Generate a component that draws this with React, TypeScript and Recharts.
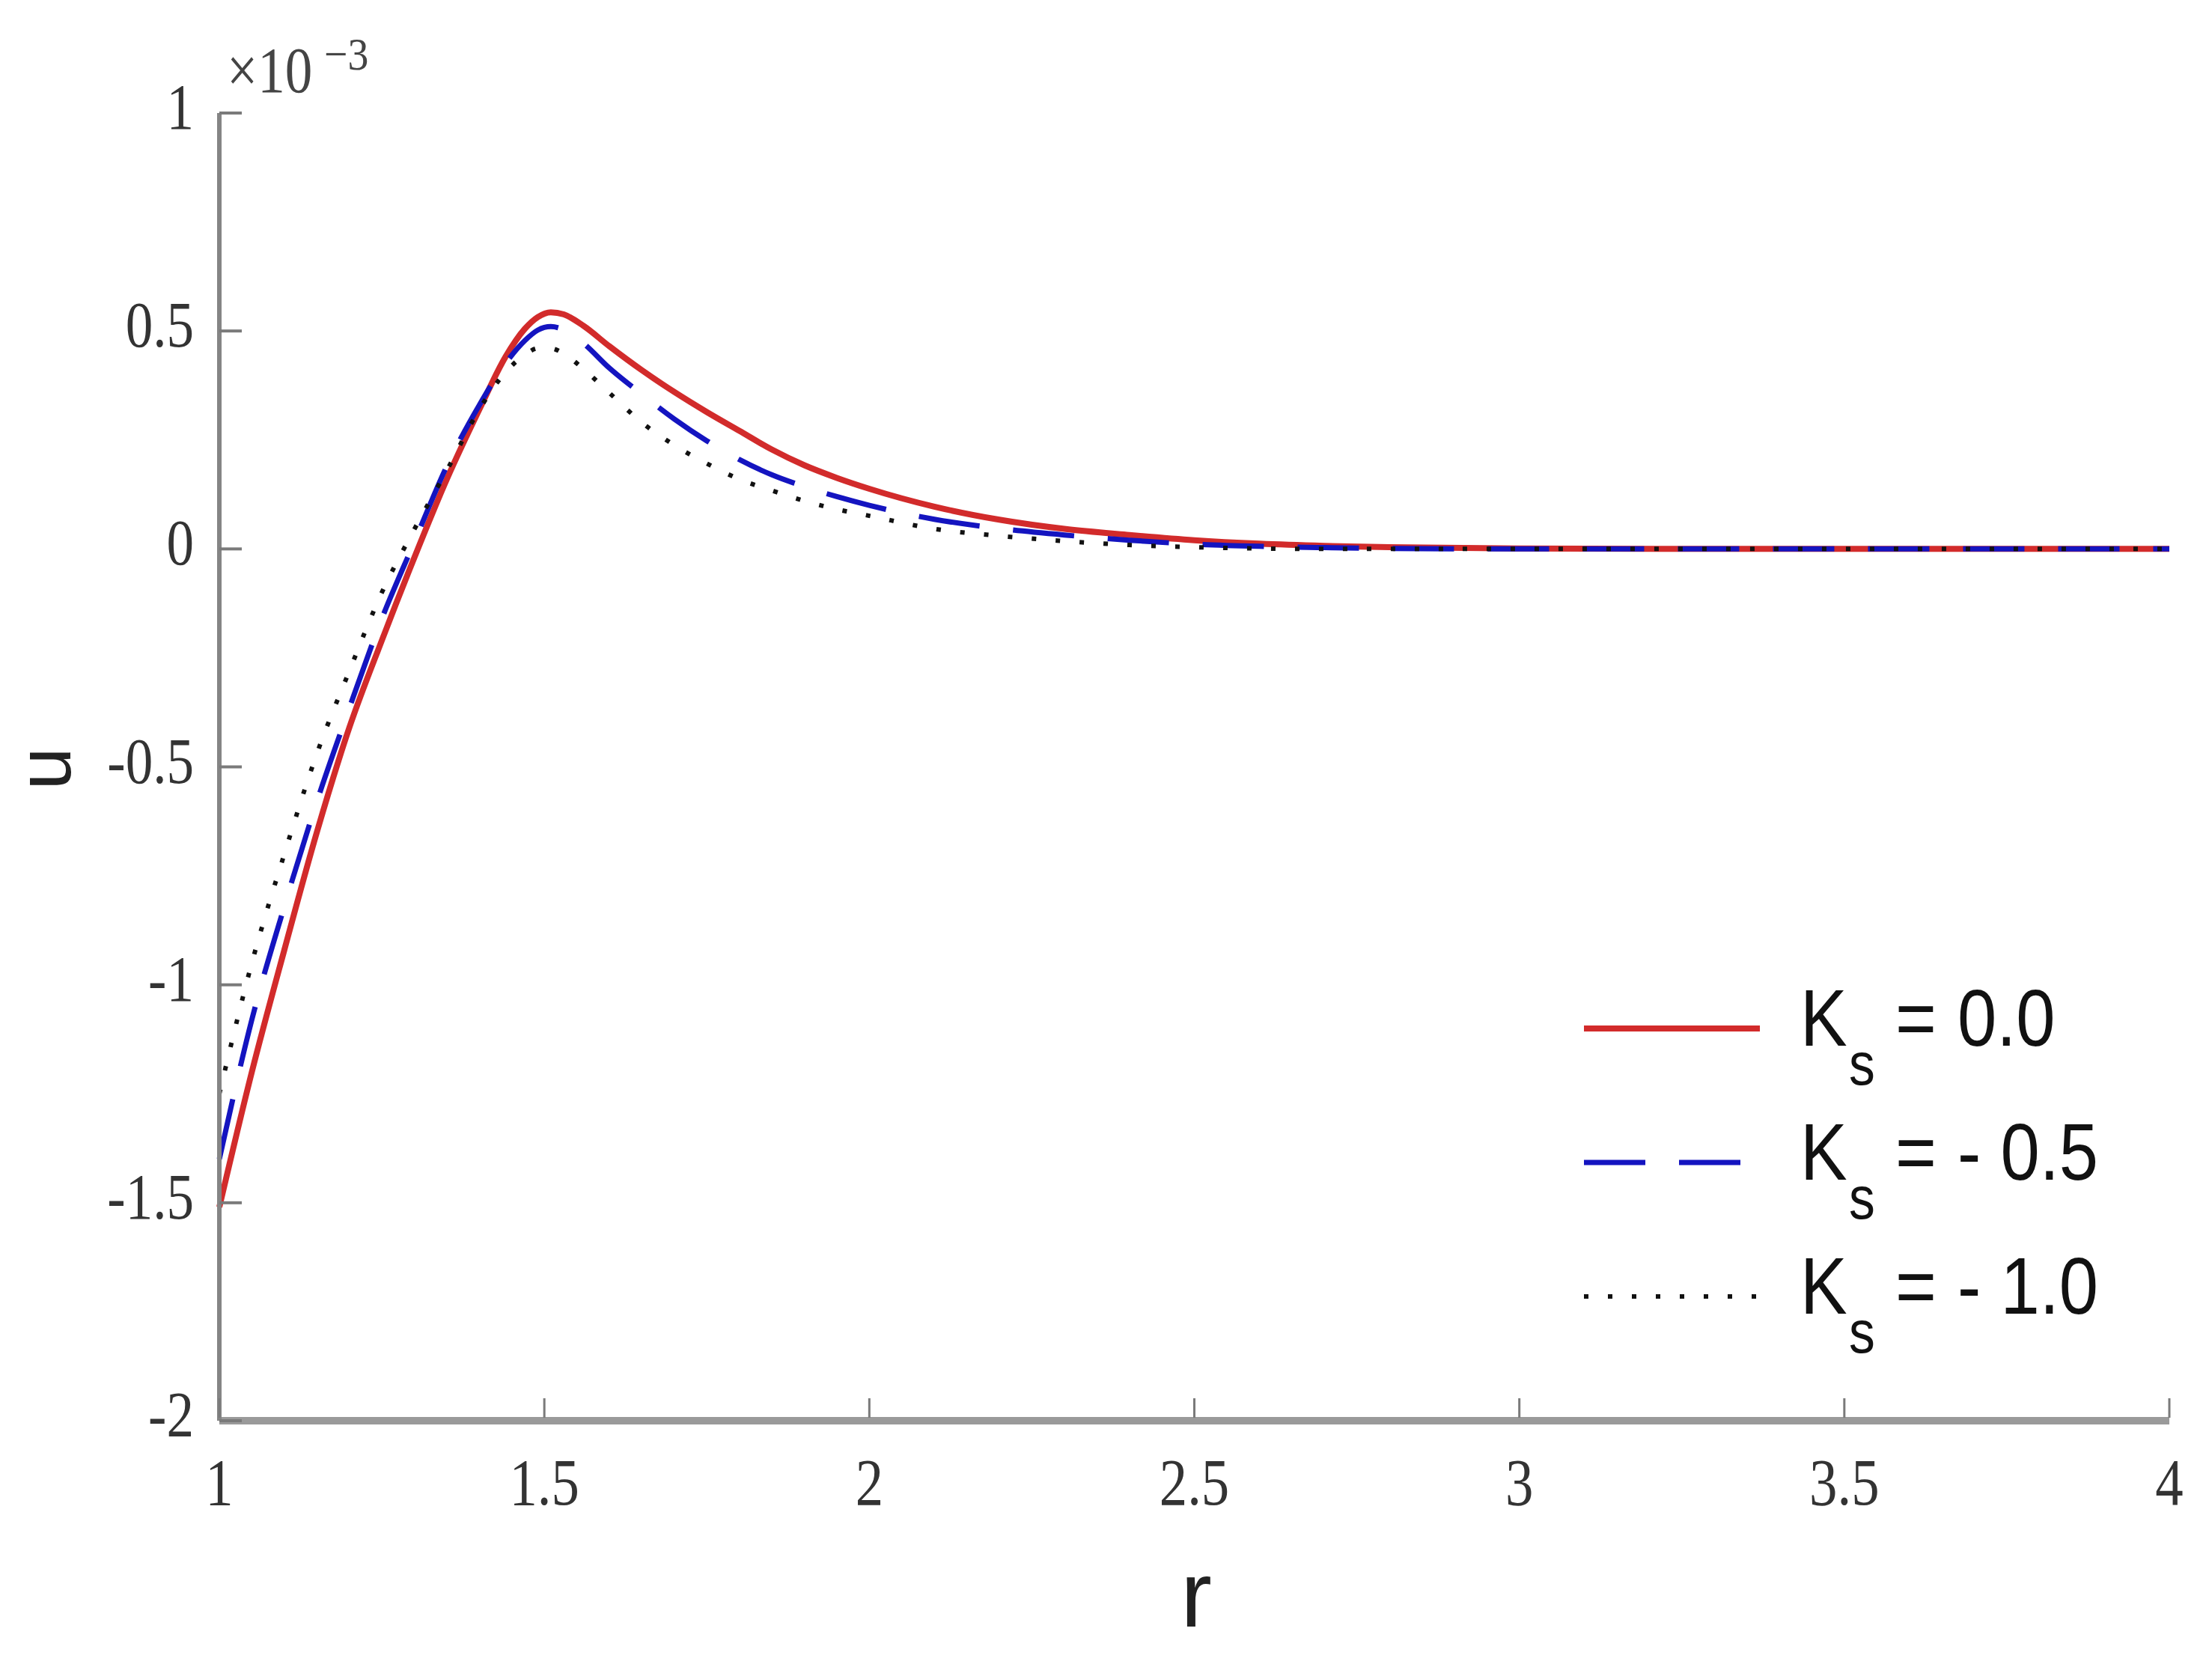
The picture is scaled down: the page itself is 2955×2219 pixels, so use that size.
import React from "react";
import { LineChart, Line, XAxis, YAxis } from "recharts";

// radius grid (shared by all three curves)
const R = [
  1.0, 1.05, 1.1, 1.15, 1.2, 1.25, 1.3, 1.35, 1.4, 1.44, 1.47, 1.49, 1.51, 1.53,
  1.56, 1.6, 1.65, 1.7, 1.75, 1.8, 1.85, 1.9, 1.95, 2.0, 2.1, 2.2, 2.3, 2.4, 2.5,
  2.6, 2.7, 2.8, 3.0, 3.25, 3.5, 3.75, 4.0,
];

// u values, in units of 1e-3
const U_KS_0 = [
  -1.51, -1.2, -0.92, -0.65, -0.41, -0.21, -0.02, 0.16, 0.32, 0.44, 0.505,
  0.532, 0.543, 0.538, 0.512, 0.465, 0.41, 0.36, 0.314, 0.271, 0.228, 0.192,
  0.163, 0.138, 0.097, 0.067, 0.046, 0.032, 0.02, 0.012, 0.007, 0.004, 0.001, 0,
  0, 0, 0,
];
const U_KS_05 = [
  -1.4, -1.08, -0.82, -0.58, -0.365, -0.16, 0.016, 0.19, 0.33, 0.425, 0.478,
  0.502, 0.51, 0.503, 0.472, 0.415, 0.355, 0.298, 0.248, 0.205, 0.17, 0.143,
  0.12, 0.1, 0.068, 0.047, 0.032, 0.02, 0.011, 0.006, 0.003, 0.001, 0, 0, 0, 0,
  0,
];
const U_KS_10 = [
  -1.25, -0.95, -0.7, -0.47, -0.28, -0.1, 0.045, 0.18, 0.32, 0.405, 0.445,
  0.46, 0.46, 0.448, 0.413, 0.358, 0.29, 0.238, 0.196, 0.16, 0.134, 0.11, 0.091,
  0.076, 0.046, 0.03, 0.018, 0.009, 0.004, 0.001, 0, 0, 0, 0, 0, 0, 0,
];

const X_TICKS = [1, 1.5, 2, 2.5, 3, 3.5, 4];
const Y_TICKS = [-2, -1.5, -1, -0.5, 0, 0.5, 1];

const SERIES = [
  { key: "ks0", value: "0.0", color: "#d22b2b", width: 8, dash: undefined as string | undefined },
  { key: "ks05", value: "- 0.5", color: "#1414c0", width: 7, dash: "82 45" },
  { key: "ks10", value: "- 1.0", color: "#111111", width: 6, dash: "6 26" },
];

const data = R.map((r, i) => ({
  r,
  ks0: U_KS_0[i],
  ks05: U_KS_05[i],
  ks10: U_KS_10[i],
}));

const W = 2955;
const H = 2219;
const TICK_FONT = "'Liberation Serif', 'DejaVu Serif', serif";
const LABEL_FONT = "'Liberation Sans', Arial, sans-serif";

const XTick = (props: any) => {
  const { x, y, payload } = props;
  return (
    <g>
      <line x1={x} y1={y - 4} x2={x} y2={y - 30} stroke="#7a7a7a" strokeWidth={3} />
      <g transform={`translate(${x},${y + 112}) scale(0.85,1)`}>
        <text textAnchor="middle" fontFamily={TICK_FONT} fontSize={88} fill="#333">
          {String(payload.value)}
        </text>
      </g>
    </g>
  );
};

const YTick = (props: any) => {
  const { x, y, payload } = props;
  return (
    <g>
      <line x1={x} y1={y} x2={x + 30} y2={y} stroke="#7a7a7a" strokeWidth={4} />
      <g transform={`translate(${x - 34},${y + 21}) scale(0.85,1)`}>
        <text textAnchor="end" fontFamily={TICK_FONT} fontSize={86} fill="#333">
          {String(payload.value)}
        </text>
      </g>
    </g>
  );
};

export default function App() {
  return (
    <div style={{ position: "absolute", left: 0, top: 0, width: W, height: H, background: "#fff" }}>
      <LineChart
        width={W}
        height={H}
        data={data}
        margin={{ top: 151, right: 57, left: 0, bottom: 0 }}
      >
        <XAxis
          dataKey="r"
          type="number"
          domain={[1, 4]}
          ticks={X_TICKS}
          interval={0}
          height={321}
          tickSize={0}
          tickMargin={0}
          tickLine={false}
          axisLine={{ stroke: "#9a9a9a", strokeWidth: 10 }}
          tick={<XTick />}
        />
        <YAxis
          type="number"
          domain={[-2, 1]}
          ticks={Y_TICKS}
          interval={0}
          width={293}
          tickSize={0}
          tickMargin={0}
          tickLine={false}
          axisLine={{ stroke: "#858585", strokeWidth: 6 }}
          tick={<YTick />}
        />
        {SERIES.map((s) => (
          <Line
            key={s.key}
            dataKey={s.key}
            type="monotone"
            stroke={s.color}
            strokeWidth={s.width}
            strokeDasharray={s.dash}
            dot={false}
            activeDot={false}
            isAnimationActive={false}
          />
        ))}
      </LineChart>

      <svg
        width={W}
        height={H}
        style={{ position: "absolute", left: 0, top: 0, pointerEvents: "none" }}
      >
        {/* exponent note */}
        <g transform="translate(303,123) scale(0.85,1)">
          <text fontFamily={TICK_FONT} fontSize={86} fill="#444">
            ×10
          </text>
        </g>
        <g transform="translate(433,93) scale(0.9,1)">
          <text fontFamily={TICK_FONT} fontSize={62} fill="#444">
            −3
          </text>
        </g>

        {/* axis titles */}
        <text x={1598} y={2173} textAnchor="middle" fontFamily={LABEL_FONT} fontSize={125} fill="#222">
          r
        </text>
        <g transform="translate(94,1027) rotate(-90)">
          <text textAnchor="middle" fontFamily={LABEL_FONT} fontSize={102} fill="#222">
            u
          </text>
        </g>

        {/* legend */}
        {SERIES.map((s, i) => {
          const ly = 1374 + i * 179;
          const by = 1397 + i * 179;
          return (
            <g key={s.key}>
              <line
                x1={2116}
                y1={ly}
                x2={2351}
                y2={ly}
                stroke={s.color}
                strokeWidth={s.width}
                strokeDasharray={s.dash}
              />
              <g transform={`translate(2405,${by}) scale(0.87,1)`}>
                <text fontFamily={LABEL_FONT} fontSize={108} fill="#111">
                  K
                </text>
              </g>
              <g transform={`translate(2470,${by + 52}) scale(0.87,1)`}>
                <text fontFamily={LABEL_FONT} fontSize={80} fill="#111">
                  s
                </text>
              </g>
              <g transform={`translate(2532,${by}) scale(0.87,1)`}>
                <text fontFamily={LABEL_FONT} fontSize={108} fill="#111">
                  =
                </text>
              </g>
              <g transform={`translate(2615,${by}) scale(0.87,1)`}>
                <text fontFamily={LABEL_FONT} fontSize={108} fill="#111">
                  {s.value}
                </text>
              </g>
            </g>
          );
        })}
      </svg>
    </div>
  );
}
